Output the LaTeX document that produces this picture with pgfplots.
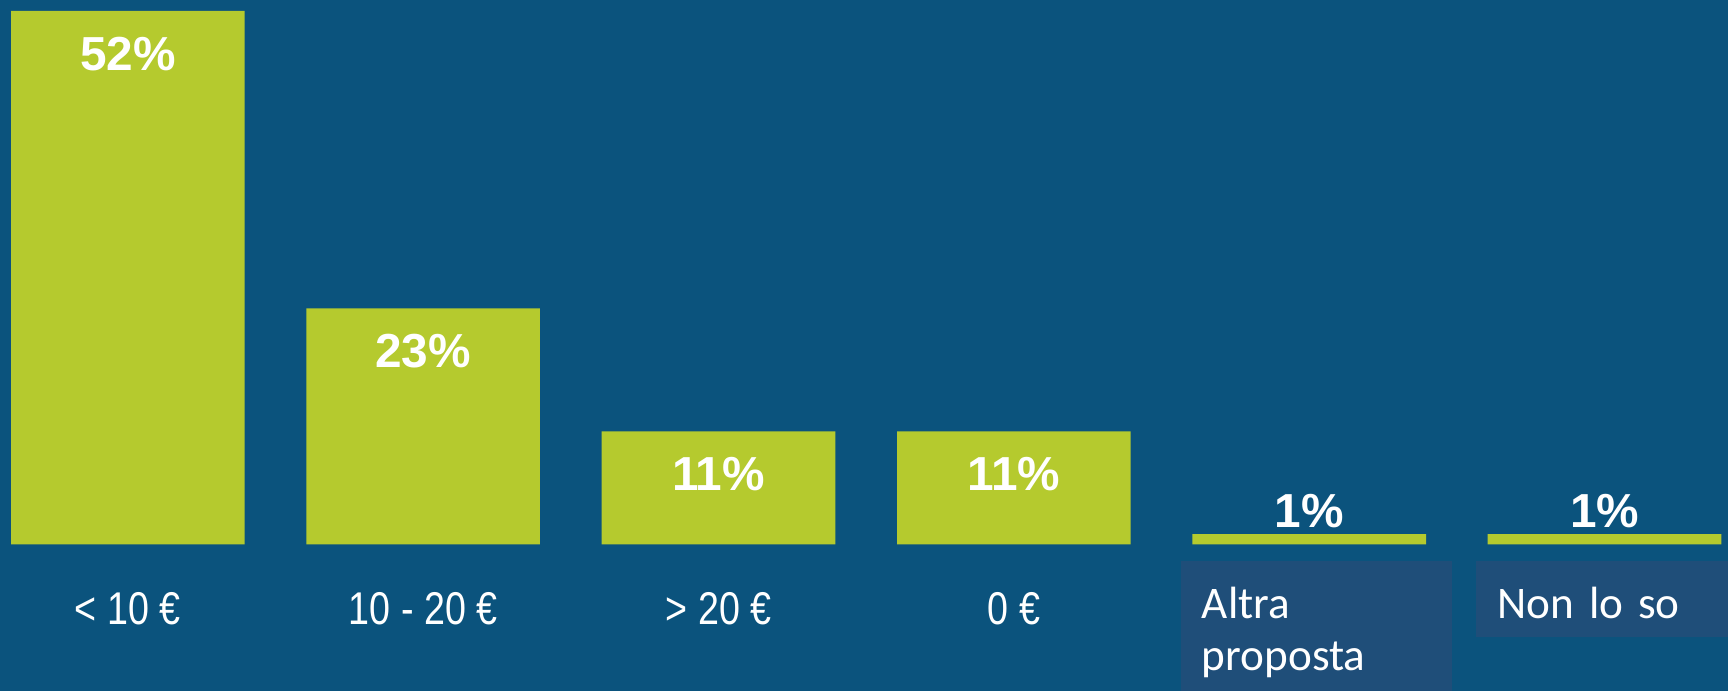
\documentclass[border=0pt]{standalone}
\usepackage{pgfplots}
\pgfplotsset{compat=1.18}
\usepackage{fontspec}
\setmainfont{Liberation Sans}
\newfontfamily\narrowfont[FakeStretch=0.82]{Liberation Sans}
\newfontfamily\calibri{Carlito}
\definecolor{bg}{RGB}{11,83,125}
\definecolor{barc}{RGB}{181,202,46}
\definecolor{boxc}{RGB}{31,78,121}

\begin{document}
\begin{tikzpicture}[x=0.3pt,y=0.3pt]
\fill[bg] (0,0) rectangle (1568,627);
\begin{axis}[
  at={(0,143)}, anchor=south west,
  scale only axis, width=470.4pt, height=147.9pt,
  xmin=-0.4328, xmax=5.418, ymin=0, ymax=52.97,
  clip=false,
  ybar, bar width=63.6pt,
  axis line style={draw=none},
  tick style={draw=none},
  ytick=\empty,
  xtick={0,1,2,3},
  xticklabels={{< 10 €},{10 - 20 €},{> 20 €},{0 €}},
  xticklabel style={anchor=center, yshift=-13.2pt, text=white,
    font=\narrowfont\fontsize{12.5}{14}\selectfont},
  extra x ticks={4,5},
  extra x tick labels={{Altra\\proposta\rule[-7pt]{0pt}{1pt}},{Non lo so\strut}},
  extra x tick style={tick style={draw=none},
    xticklabel style={anchor=north west, xshift=-35.1pt, yshift=13.2pt,
      fill=boxc, text=white, align=left, text width=62.4pt,
      inner xsep=5.7pt, inner ysep=0.8pt, text height=14.8pt,
      font=\calibri\fontsize{12.3}{14.4}\selectfont}},
  nodes near coords={\pgfmathprintnumber[assume math mode=true]{\pgfplotspointmeta}\%},
  every node near coord/.append style={text=white, anchor=center,
    font=\bfseries\fontsize{13}{16}\selectfont},
]
\addplot[fill=barc, draw=none, bar shift=0pt,
  every node near coord/.append style={yshift=-11.7pt}]
  coordinates {(0,52) (1,23) (2,11) (3,11)};
\addplot[fill=barc, draw=none, bar shift=0pt,
  every node near coord/.append style={yshift=6.3pt}]
  coordinates {(4,1) (5,1)};
\end{axis}
\pgfresetboundingbox
\path (0,0) rectangle (1568,627);
\end{tikzpicture}
\end{document}
